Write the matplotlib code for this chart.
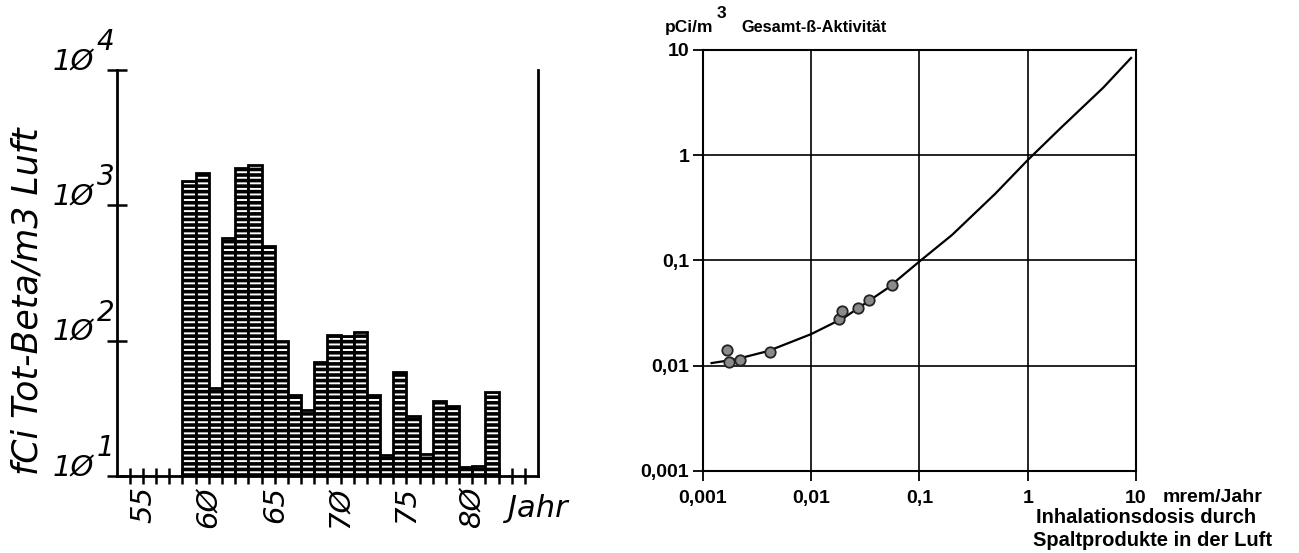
import matplotlib
matplotlib.use("Agg")
import matplotlib.pyplot as plt
from matplotlib.ticker import FixedLocator, NullLocator

# ------------- linke Grafik: Gesamt-Beta-Aktivitaet der Luft
years = list(range(58, 82))
activity = [1520, 1720, 45, 570, 1880, 2000, 500, 100, 40, 30.5, 70, 111,
            108, 116, 40, 14.4, 59, 28, 14.6, 36, 33, 11.6, 11.8, 42]
year_ticks = list(range(54, 85))
year_labels = {55: "55", 60: "6Ø", 65: "65", 70: "7Ø", 75: "75", 80: "8Ø"}
decades = [10, 100, 1000, 10000]
decade_exp = ["1", "2", "3", "4"]

# ------------- rechte Grafik: Aktivitaet vs. Inhalationsdosis
dose_curve = [0.0012, 0.002, 0.004, 0.01, 0.02, 0.05, 0.1, 0.2, 0.5, 1, 2, 5, 9]
act_curve = [0.0106, 0.0115, 0.0138, 0.020, 0.0285, 0.054, 0.098, 0.175,
             0.43, 0.9, 1.8, 4.4, 8.4]
dose_pts = [0.00166, 0.00175, 0.0022, 0.0042, 0.0182, 0.0191, 0.0268, 0.0343, 0.0553]
act_pts = [0.0141, 0.0109, 0.0114, 0.0136, 0.0277, 0.0334, 0.0352, 0.0422, 0.0586]
log_ticks = [0.001, 0.01, 0.1, 1, 10]
log_labels = ["0,001", "0,01", "0,1", "1", "10"]

plt.rcParams["hatch.linewidth"] = 2.6

fig = plt.figure(figsize=(12.99, 5.53), dpi=100)

# ---- links
ax1 = fig.add_axes([0.0898, 0.1392, 0.3244, 0.7342])
ax1.bar(years, activity, width=1, align="edge", facecolor="white",
        edgecolor="black", linewidth=2, hatch="---")
ax1.set_yscale("log")
ax1.set_xlim(53, 85)
ax1.set_ylim(10, 10000)
ax1.spines["top"].set_visible(False)
for s in ["left", "bottom", "right"]:
    ax1.spines[s].set_linewidth(2)
ax1.xaxis.set_major_locator(FixedLocator(year_ticks))
ax1.set_xticklabels([year_labels.get(y, "") for y in year_ticks],
                    rotation=90, fontsize=21, fontstyle="italic", va="top")
ax1.tick_params(axis="x", direction="inout", length=11, width=1.8, pad=2)
ax1.yaxis.set_major_locator(FixedLocator(decades))
ax1.yaxis.set_minor_locator(NullLocator())
ax1.set_yticklabels([])
ax1.tick_params(axis="y", direction="inout", length=14, width=1.8)
for v, e in zip(decades, decade_exp):
    ax1.annotate("1Ø", xy=(0, v), xycoords=("axes fraction", "data"),
                 xytext=(-16.5, 0), textcoords="offset points",
                 ha="right", va="baseline", fontsize=21, fontstyle="italic")
    ax1.annotate(e, xy=(0, v), xycoords=("axes fraction", "data"),
                 xytext=(-14.5, 14.5), textcoords="offset points",
                 ha="left", va="baseline", fontsize=20, fontstyle="italic")

fig.text(0.0208, 0.4557, "fCi Tot-Beta/m3 Luft", rotation=90, ha="center",
         va="center", fontsize=25, fontstyle="italic")
fig.text(0.391, 0.0796, "Jahr", ha="left", va="center", fontsize=22,
         fontstyle="italic")

# ---- rechts
bold = dict(family="Liberation Sans", fontweight="bold")
ax2 = fig.add_axes([0.5412, 0.1483, 0.3333, 0.7613])
ax2.set_xscale("log")
ax2.set_yscale("log")
ax2.set_xlim(0.001, 10)
ax2.set_ylim(0.001, 10)
ax2.plot(dose_curve, act_curve, color="black", linewidth=1.6)
ax2.plot(dose_pts, act_pts, "o", markersize=7.5, markerfacecolor="#8a8a8a",
         markeredgecolor="#222222", markeredgewidth=1.3)
ax2.xaxis.set_major_locator(FixedLocator(log_ticks))
ax2.yaxis.set_major_locator(FixedLocator(log_ticks))
ax2.xaxis.set_minor_locator(NullLocator())
ax2.yaxis.set_minor_locator(NullLocator())
ax2.set_xticklabels(log_labels, fontsize=14, **bold)
ax2.set_yticklabels(log_labels, fontsize=14, **bold)
ax2.tick_params(axis="x", direction="out", length=7, width=1.3, pad=7)
ax2.tick_params(axis="y", direction="out", length=7, width=1.3, pad=3)
ax2.grid(True, color="black", linewidth=1.2)
for s in ax2.spines.values():
    s.set_linewidth(1.5)

fig.text(0.512, 0.942, "pCi/m", fontsize=12.5, ha="left", va="baseline", **bold)
fig.text(0.552, 0.962, "3", fontsize=12.5, ha="left", va="bottom", **bold)
fig.text(0.571, 0.942, "Gesamt-ß-Aktivität", fontsize=11.8, ha="left",
         va="baseline", **bold)
fig.text(0.8953, 0.0995, "mrem/Jahr", fontsize=14, ha="left", va="center", **bold)
fig.text(0.7975, 0.0633, "Inhalationsdosis durch", fontsize=14.5, ha="left",
         va="center", **bold)
fig.text(0.7952, 0.0235, "Spaltprodukte in der Luft", fontsize=14.5, ha="left",
         va="center", **bold)

fig.savefig("out.png", dpi=100)
